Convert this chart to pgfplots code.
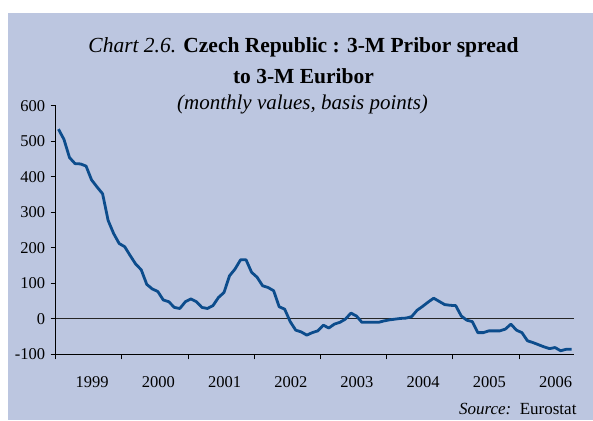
\documentclass[border=0pt]{standalone}
\usepackage{pgfplots}
\pgfplotsset{compat=1.18}
\usepackage{fontspec}
\setmainfont{Liberation Serif}
\definecolor{panel}{RGB}{188,198,224}
\definecolor{lineblue}{RGB}{12,76,140}
\begin{document}
\begin{tikzpicture}[x=1pt,y=1pt]
\path[use as bounding box] (0,0) rectangle (593,420);
\fill[white] (0,0) rectangle (593,420);
\fill[panel] (8.3,0) rectangle (593,407);
\node[anchor=base, font=\fontsize{21.5}{24}\selectfont] at (303.5,367.8) {\textit{Chart 2.6.} \textbf{Czech Republic : 3-M Pribor spread}};
\node[anchor=base, font=\fontsize{21.5}{24}\selectfont\bfseries] at (303.5,336) {to 3-M Euribor};
\node[anchor=base, font=\fontsize{21}{24}\selectfont\itshape] at (302.5,310.5) {(monthly values, basis points)};
\node[anchor=base east, font=\fontsize{17}{20}\selectfont] at (580,6) {\textit{Source:}\ \ Eurostat};
\begin{axis}[
  at={(55.7pt,65.7pt)}, anchor=south west, scale only axis,
  width=518.1pt, height=248.6pt,
  xmin=-0.5, xmax=93.4, ymin=-100, ymax=600,
  axis x line*=bottom, axis y line*=left,
  axis line style={-, black, line width=1.1pt},
  tick style={black, line width=1pt},
  major tick length=5pt, tick align=outside,
  ytick={-100,0,100,200,300,400,500,600},
  xtick={-0.5,11.5,23.5,35.5,47.5,59.5,71.5,83.5},
  xticklabels={},
  extra x ticks={6.1,18.1,30.1,42.1,54.1,66.1,78.1,90.1},
  extra x tick labels={1999,2000,2001,2002,2003,2004,2005,2006},
  extra x tick style={major tick length=0pt, tick label style={yshift=-18.5pt}},
  /pgf/number format/assume math mode=true,
  tick label style={font=\fontsize{16.5}{19}\selectfont},
  yticklabel style={xshift=-2pt},
  clip=false,
]
\draw[black!85, line width=1pt] (axis cs:-0.5,0) -- (axis cs:93.4,0);
\addplot[color=lineblue, line width=2.8pt, line join=round, mark=none] table[x=i, y=v] {
i v
0 534
1 505
2 454
3 437
4 436
5 430
6 391
7 371
8 352
9 277
10 240
11 212
12 203
13 178
14 154
15 138
16 97
17 84
18 77
19 53
20 48
21 32
22 29
23 48
24 56
25 48
26 32
27 29
28 37
29 60
30 74
31 121
32 140
33 166
34 166
35 131
36 117
37 93
38 88
39 79
40 34
41 27
42 -8
43 -32
44 -37
45 -46
46 -39
47 -34
48 -18
49 -26
50 -15
51 -10
52 -1
53 16
54 8
55 -10
56 -10
57 -10
58 -10
59 -6
60 -3
61 -1
62 1
63 2
64 6
65 24
66 35
67 47
68 58
69 49
70 40
71 38
72 37
73 8
74 -4
75 -8
76 -39
77 -39
78 -34
79 -34
80 -34
81 -29
82 -15
83 -32
84 -39
85 -62
86 -67
87 -73
88 -79
89 -84
90 -81
91 -90
92 -86
93 -86
};
\end{axis}
\end{tikzpicture}
\end{document}
